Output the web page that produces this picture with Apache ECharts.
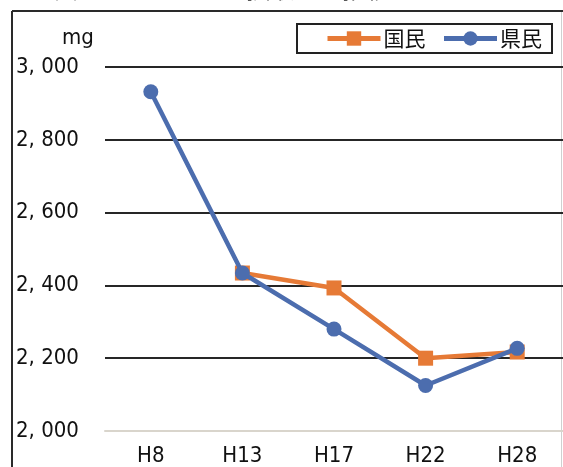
<!DOCTYPE html>
<html>
<head>
<meta charset="utf-8">
<script src="https://cdn.jsdelivr.net/npm/echarts@6/dist/echarts.min.js"></script>
<style>
html,body{margin:0;padding:0;background:#fff;}
#main{width:563px;height:467px;}
</style>
</head>
<body>
<div id="main"></div>
<script>
const categories = ['H8', 'H13', 'H17', 'H22', 'H28'];
const kokumin = [null, 2434, 2393, 2200, 2217];
const kenmin = [2932, 2434, 2280, 2125, 2227];
const yTicks = [2000, 2200, 2400, 2600, 2800, 3000];
const seriesNames = ['国民', '県民'];
const unitLabel = 'mg';
const titleText = '図３　カリウムの摂取量の推移';

const latinFont = '"DejaVu Sans Condensed", "Liberation Sans Narrow", "Liberation Sans", sans-serif';
const cjkFont = '"Noto Sans CJK JP", "Noto Sans", sans-serif';

function fmt(v) {
  const th = Math.floor(v / 1000);
  const rest = String(v % 1000).padStart(3, '0');
  return th + ', ' + rest;
}

const chart = echarts.init(document.getElementById('main'));
chart.setOption({
  animation: false,
  backgroundColor: '#fff',
  grid: { left: 105, right: 0, top: 67, bottom: 35 },
  legend: {
    data: seriesNames,
    right: 11, top: 24,
    orient: 'horizontal',
    itemWidth: 53, itemHeight: 18, itemGap: 16,
    padding: [4, 10, 4, 28],
    borderColor: '#222', borderWidth: 2,
    lineStyle: { width: 5 },
    textStyle: { fontFamily: cjkFont, fontSize: 21, color: '#111', padding: [0, 0, 0, -2] }
  },
  xAxis: {
    type: 'category',
    data: categories,
    boundaryGap: true,
    axisLine: { show: true, lineStyle: { color: '#d9d5cc', width: 2 } },
    axisTick: { show: false },
    axisLabel: { fontFamily: latinFont, fontSize: 22, color: '#111', margin: 14 }
  },
  yAxis: {
    type: 'value',
    min: 2000, max: 3000, interval: 200,
    axisLine: { show: false },
    axisTick: { show: false },
    axisLabel: {
      fontFamily: latinFont, fontSize: 22, color: '#111',
      align: 'left', margin: 89,
      formatter: function (v) { return yTicks.indexOf(v) >= 0 ? fmt(v) : ''; }
    },
    splitLine: { show: true, lineStyle: { color: ['#d9d5cc', '#262626', '#262626', '#262626', '#262626', '#262626'], width: 2 } }
  },
  series: [
    {
      name: seriesNames[0], type: 'line', data: kokumin,
      symbol: 'rect', symbolSize: 15,
      itemStyle: { color: '#E67A36' },
      lineStyle: { color: '#E67A36', width: 4.5 },
      z: 2
    },
    {
      name: seriesNames[1], type: 'line', data: kenmin,
      symbol: 'circle', symbolSize: 15,
      itemStyle: { color: '#4C6DAE' },
      lineStyle: { color: '#4C6DAE', width: 4.5 },
      z: 3
    }
  ],
  graphic: [
    { type: 'line', shape: { x1: 12, y1: 11, x2: 563, y2: 11 }, style: { stroke: '#2a2a2a', lineWidth: 2 } },
    { type: 'line', shape: { x1: 12, y1: 11, x2: 12, y2: 467 }, style: { stroke: '#2a2a2a', lineWidth: 2 } },
    { type: 'line', shape: { x1: 561.5, y1: 12, x2: 561.5, y2: 467 }, style: { stroke: '#d0d0d0', lineWidth: 1 } },
    { type: 'text', left: 62, top: 27, style: { text: unitLabel, font: '22px ' + latinFont, fill: '#111' } },
    { type: 'text', x: 54, y: -23, style: { text: titleText, font: '24px ' + cjkFont, fill: '#1a1a1a' } }
  ]
});
</script>
</body>
</html>
